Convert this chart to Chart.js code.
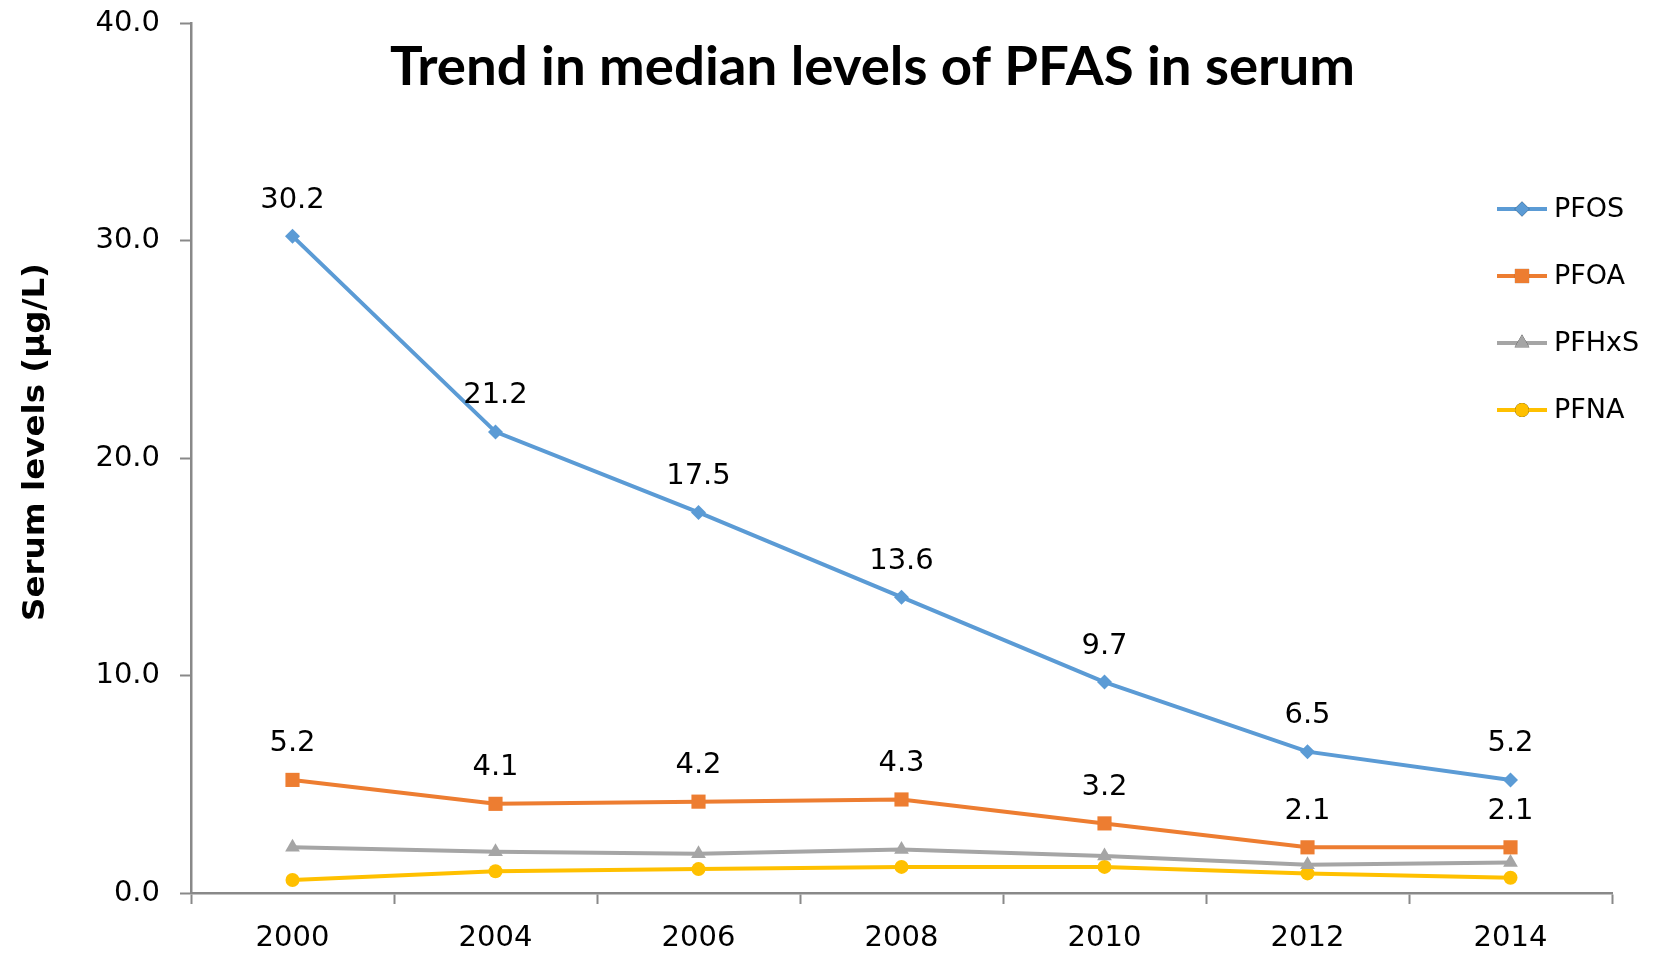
<!DOCTYPE html>
<html>
<head>
<meta charset="utf-8">
<script src="https://cdn.jsdelivr.net/npm/chart.js@4.4.1/dist/chart.umd.min.js"></script>
<style>
  html, body { margin: 0; padding: 0; background: #ffffff; }
  #wrap { width: 1655px; height: 959px; position: relative; }
</style>
</head>
<body>
<div id="wrap"><canvas id="c" width="1655" height="959"></canvas></div>
<script>
// ---- data ----
const years = ['2000', '2004', '2006', '2008', '2010', '2012', '2014'];
const pfos  = [30.2, 21.2, 17.5, 13.6, 9.7, 6.5, 5.2];
const pfoa  = [5.2, 4.1, 4.2, 4.3, 3.2, 2.1, 2.1];
const pfhxs = [2.1, 1.9, 1.8, 2.0, 1.7, 1.3, 1.4];
const pfna  = [0.6, 1.0, 1.1, 1.2, 1.2, 0.9, 0.7];
const seriesNames = ['PFOS', 'PFOA', 'PFHxS', 'PFNA'];
const yTicks = [0, 10, 20, 30, 40];
const chartTitle = 'Trend in median levels of PFAS in serum';
const yTitle = 'Serum levels (\u03BCg/L)';

const COLORS = ['#5B9BD5', '#ED7D31', '#A5A5A5', '#FFC000'];
const STYLES = ['rectRot', 'rect', 'triangle', 'circle'];
const RADII = [7.5, 10, 8.5, 7];
const AXIS = '#898989';
const TICKFONT = '"DejaVu Sans", Verdana, sans-serif';

function ds(i, data, labels) {
  return {
    label: seriesNames[i],
    data: data,
    borderColor: COLORS[i],
    backgroundColor: COLORS[i],
    borderWidth: 4,
    pointStyle: STYLES[i],
    pointRadius: RADII[i],
    pointHoverRadius: RADII[i],
    pointBorderWidth: 0,
    tension: 0,
    showValueLabels: labels
  };
}

const decorPlugin = {
  id: 'decor',
  afterDatasetsDraw(chart) {
    const ctx = chart.ctx;
    ctx.save();
    ctx.fillStyle = '#000';
    ctx.font = '29px ' + TICKFONT;
    ctx.textAlign = 'center';
    ctx.textBaseline = 'middle';
    chart.data.datasets.forEach((d, i) => {
      if (!d.showValueLabels) return;
      const meta = chart.getDatasetMeta(i);
      meta.data.forEach((pt, j) => {
        ctx.fillText(d.data[j].toFixed(1), pt.x, pt.y - 36);
      });
    });
    ctx.restore();
  },
  afterDraw(chart) {
    const ctx = chart.ctx;
    // title
    ctx.save();
    ctx.fillStyle = '#000';
    ctx.font = 'bold 53px Lato, "Open Sans", sans-serif';
    ctx.textBaseline = 'alphabetic';
    ctx.textAlign = 'left';
    let w = ctx.measureText(chartTitle).width;
    let sx = 965 / w;
    ctx.translate(390, 85);
    ctx.scale(sx, 1);
    ctx.fillText(chartTitle, 0, 0);
    ctx.restore();

    // y-axis title
    ctx.save();
    ctx.fillStyle = '#000';
    ctx.font = 'bold 31px "DejaVu Sans", sans-serif';
    ctx.textAlign = 'center';
    ctx.textBaseline = 'middle';
    w = ctx.measureText(yTitle).width;
    ctx.translate(36, 442);
    ctx.rotate(-Math.PI / 2);
    ctx.scale(358 / w, 1);
    ctx.fillText(yTitle, 0, 0);
    ctx.restore();

    // legend
    ctx.save();
    const lx0 = 1497, lx1 = 1547, tx = 1554;
    const rows = [209, 276, 343, 410];
    chart.data.datasets.forEach((d, i) => {
      const y = rows[i];
      ctx.strokeStyle = d.borderColor;
      ctx.lineWidth = 4;
      ctx.beginPath();
      ctx.moveTo(lx0, y);
      ctx.lineTo(lx1, y);
      ctx.stroke();
      Chart.helpers.drawPoint(ctx, {
        pointStyle: d.pointStyle, radius: d.pointRadius, borderWidth: 0, rotation: 0
      }, (lx0 + lx1) / 2, y);
      ctx.fillStyle = d.backgroundColor;
      ctx.fill();
      ctx.fillStyle = '#000';
      ctx.font = '27px ' + TICKFONT;
      ctx.textAlign = 'left';
      ctx.textBaseline = 'middle';
      ctx.fillText(d.label, tx, y + 1);
    });
    ctx.restore();
  }
};

new Chart(document.getElementById('c'), {
  type: 'line',
  data: {
    labels: years,
    datasets: [
      ds(0, pfos, true),
      ds(1, pfoa, true),
      ds(2, pfhxs, false),
      ds(3, pfna, false)
    ]
  },
  options: {
    responsive: false,
    animation: false,
    layout: { padding: { top: 23, right: 43, left: 0, bottom: 0 } },
    plugins: {
      legend: { display: false },
      title: { display: false },
      tooltip: { enabled: false }
    },
    scales: {
      x: {
        type: 'category',
        offset: true,
        grid: {
          offset: true,
          drawOnChartArea: false,
          drawTicks: true,
          tickLength: 11,
          tickColor: AXIS,
          tickWidth: 2
        },
        border: { display: true, color: AXIS, width: 2.5 },
        ticks: {
          color: '#000',
          font: { family: TICKFONT, size: 29 },
          padding: 17,
          maxRotation: 0,
          autoSkip: false
        },
        afterFit(s) { s.height = 66; s.paddingLeft = 0; s.paddingRight = 0; }
      },
      y: {
        min: yTicks[0],
        max: yTicks[yTicks.length - 1],
        afterBuildTicks(s) { s.ticks = yTicks.map(v => ({ value: v })); },
        grid: {
          drawOnChartArea: false,
          drawTicks: true,
          tickLength: 11,
          tickColor: AXIS,
          tickWidth: 2
        },
        border: { display: true, color: AXIS, width: 2.5 },
        ticks: {
          color: '#000',
          font: { family: TICKFONT, size: 29 },
          padding: 20,
          callback: v => Number(v).toFixed(1)
        },
        afterFit(s) { s.width = 191; s.paddingTop = 0; s.paddingBottom = 0; }
      }
    }
  },
  plugins: [decorPlugin]
});
</script>
</body>
</html>
